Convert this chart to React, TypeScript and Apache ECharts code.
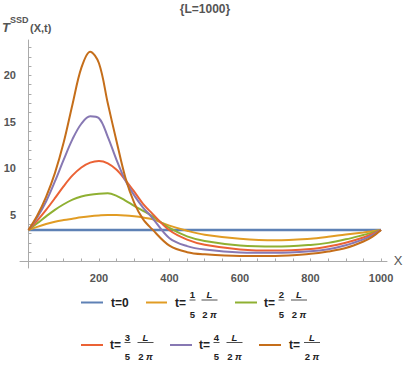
import React, { useEffect, useRef } from "react";
import * as echarts from "echarts";

const xValues = [0, 25, 50, 75, 100, 125, 150, 175, 200, 225, 250, 275, 300, 325, 350, 400, 450, 500, 600, 700, 800, 850, 900, 950, 975, 1000];

const seriesT0 = [3.39, 3.39, 3.39, 3.39, 3.39, 3.39, 3.39, 3.39, 3.39, 3.39, 3.39, 3.39, 3.39, 3.39, 3.39, 3.39, 3.39, 3.39, 3.39, 3.39, 3.39, 3.39, 3.39, 3.39, 3.39, 3.39];
const seriesT1 = [3.39, 3.72, 4.02, 4.27, 4.45, 4.6, 4.75, 4.87, 4.95, 5.0, 5.0, 4.95, 4.85, 4.72, 4.55, 3.85, 3.3, 2.88, 2.45, 2.28, 2.45, 2.65, 2.9, 3.12, 3.25, 3.39];
const seriesT2 = [3.39, 4.1, 4.85, 5.55, 6.15, 6.65, 6.98, 7.18, 7.28, 7.32, 7.05, 6.55, 5.98, 5.45, 4.9, 3.6, 2.7, 2.2, 1.72, 1.6, 1.78, 2.0, 2.38, 2.85, 3.1, 3.39];
const seriesT3 = [3.39, 4.4, 5.55, 6.8, 8.1, 9.25, 10.1, 10.62, 10.8, 10.55, 9.85, 8.75, 7.5, 6.2, 5.2, 3.35, 2.35, 1.8, 1.3, 1.17, 1.35, 1.62, 2.02, 2.58, 2.95, 3.39];
const seriesT4 = [3.39, 4.75, 6.45, 8.6, 10.95, 13.15, 14.8, 15.6, 15.4, 13.4, 10.9, 8.7, 7.1, 5.8, 4.75, 2.5, 1.65, 1.28, 0.97, 0.93, 1.1, 1.32, 1.75, 2.38, 2.8, 3.39];
const seriesT5 = [3.39, 4.95, 6.95, 9.5, 12.8, 16.9, 20.8, 22.55, 21.3, 17.0, 12.9, 9.0, 6.3, 4.55, 3.5, 1.7, 1.0, 0.77, 0.6, 0.6, 0.82, 1.07, 1.45, 2.15, 2.65, 3.39];

const seriesNames = ["t=0", "t=1/5 L/(2π)", "t=2/5 L/(2π)", "t=3/5 L/(2π)", "t=4/5 L/(2π)", "t=L/(2π)"];
const seriesValues = [seriesT0, seriesT1, seriesT2, seriesT3, seriesT4, seriesT5];
const colors = ["#5E81B5", "#E19C24", "#8FB032", "#EB6235", "#8778B3", "#C56E1A"];

const xLabelValues = [200, 400, 600, 800, 1000];
const xTickValues = [50, 100, 150, 200, 250, 300, 350, 400, 450, 500, 550, 600, 650, 700, 750, 800, 850, 900, 950, 1000];
const yLabelValues = [5, 10, 15, 20];
const yTickValues = [1, 2, 3, 4, 5, 6, 7, 8, 9, 10, 11, 12, 13, 14, 15, 16, 17, 18, 19, 20, 21, 22, 23];

const FONT = "Liberation Sans, Arial, sans-serif";
const GRAY = "#555";
const DARK = "#222";

function legendGraphics(): any[] {
  const els: any[] = [];
  const line = (x1: number, x2: number, y: number, color: string) => ({
    type: "line",
    shape: { x1, y1: y, x2, y2: y },
    style: { stroke: color, lineWidth: 2 },
  });
  const txt = (text: string, x: number, y: number, size: number, align = "left", italic = false) => ({
    type: "text",
    x,
    y,
    style: {
      text,
      fontSize: size,
      fontWeight: "bold",
      fontStyle: italic ? "italic" : "normal",
      fontFamily: FONT,
      fill: DARK,
      align,
      verticalAlign: "middle",
    },
  });
  const bar = (x1: number, x2: number, y: number) => ({
    type: "line",
    shape: { x1, y1: y, x2, y2: y },
    style: { stroke: DARK, lineWidth: 0.8 },
  });
  const frac = (cx: number, num: string, den: string, rowY: number) => {
    els.push(txt(num, cx, rowY - 8, 9.5, "center"));
    els.push(bar(cx - 3, cx + 3, rowY - 2.5));
    els.push(txt(den, cx, rowY + 11.5, 9.5, "center"));
  };
  const Lfrac = (cx: number, rowY: number) => {
    els.push(txt("L", cx, rowY - 8, 9.5, "center", true));
    els.push(bar(cx - 8, cx + 8, rowY - 2.5));
    els.push({
      type: "text",
      x: cx,
      y: rowY + 11.5,
      style: {
        rich: {
          a: { fontSize: 9.5, fontWeight: "bold", fontFamily: FONT, fill: DARK },
          b: { fontSize: 9.5, fontWeight: "bold", fontStyle: "italic", fontFamily: FONT, fill: DARK },
        },
        text: "{a|2 }{b|π}",
        align: "center",
        verticalAlign: "middle",
      },
    });
  };
  const r1 = 302.5;
  const r2 = 345;
  els.push(line(81, 103, r1, colors[0]));
  els.push(txt("t=0", 111, r1, 12));
  els.push(line(146, 167, r1, colors[1]));
  els.push(txt("t=", 175, r1, 12));
  frac(192.5, "1", "5", r1);
  Lfrac(209.5, r1);
  els.push(line(235, 257, r1, colors[2]));
  els.push(txt("t=", 264, r1, 12));
  frac(281.5, "2", "5", r1);
  Lfrac(299, r1);
  els.push(line(81, 103, r2, colors[3]));
  els.push(txt("t=", 110, r2, 12));
  frac(127.5, "3", "5", r2);
  Lfrac(145.5, r2);
  els.push(line(170, 192, r2, colors[4]));
  els.push(txt("t=", 199, r2, 12));
  frac(216.5, "4", "5", r2);
  Lfrac(234.5, r2);
  els.push(line(259, 281, r2, colors[5]));
  els.push(txt("t=", 289, r2, 12));
  Lfrac(312, r2);
  return els;
}

export default function App() {
  const ref = useRef<HTMLDivElement>(null);
  useEffect(() => {
    if (!ref.current) return;
    const chart = echarts.init(ref.current, null, { renderer: "svg" });
    const series = seriesValues.map((vals, i) => ({
      name: seriesNames[i],
      type: "line",
      data: xValues.map((x, j) => [x, vals[j]]),
      smooth: 0.35,
      showSymbol: false,
      lineStyle: { color: colors[i], width: i === 0 ? 2.5 : 2 },
      itemStyle: { color: colors[i] },
      z: 2 + i,
    }));
    const labelStyle = {
      color: GRAY,
      fontSize: 11,
      fontWeight: "bold",
      fontFamily: FONT,
      margin: 4,
      formatter: (v: number) => String(v),
    };
    chart.setOption({
      animation: false,
      backgroundColor: "#fff",
      grid: { left: 20, right: 19, top: 40, bottom: 99, containLabel: false },
      xAxis: {
        type: "value",
        min: -24,
        max: 1017,
        splitLine: { show: false },
        axisLine: { show: true, onZero: true, lineStyle: { color: "#aaa", width: 1 } },
        axisTick: { show: true, inside: true, length: 3, customValues: xTickValues, lineStyle: { color: "#aaa" } },
        axisLabel: { ...labelStyle, customValues: xLabelValues },
      },
      yAxis: {
        type: "value",
        min: -0.7,
        max: 23.8,
        splitLine: { show: false },
        axisLine: { show: true, onZero: true, lineStyle: { color: "#aaa", width: 1 } },
        axisTick: { show: true, inside: true, length: 3, customValues: yTickValues, lineStyle: { color: "#aaa" } },
        axisLabel: { ...labelStyle, customValues: yLabelValues },
      },
      series,
      graphic: [
        {
          type: "text",
          x: 205,
          y: 9,
          style: { text: "{L=1000}", fontSize: 12, fontWeight: "bold", fontFamily: FONT, fill: GRAY, align: "center", verticalAlign: "middle" },
        },
        {
          type: "text",
          x: 2,
          y: 27,
          style: { text: "T", fontSize: 13, fontStyle: "italic", fontWeight: "bold", fontFamily: FONT, fill: GRAY, align: "left", verticalAlign: "middle" },
        },
        {
          type: "text",
          x: 10,
          y: 20,
          style: { text: "SSD", fontSize: 9, fontWeight: "bold", fontFamily: FONT, fill: GRAY, align: "left", verticalAlign: "middle" },
        },
        {
          type: "text",
          x: 30,
          y: 28,
          style: { text: "(X,t)", fontSize: 11, fontWeight: "bold", fontFamily: FONT, fill: GRAY, align: "left", verticalAlign: "middle" },
        },
        {
          type: "text",
          x: 398,
          y: 260,
          style: { text: "X", fontSize: 13, fontFamily: FONT, fill: GRAY, align: "center", verticalAlign: "middle" },
        },
        ...legendGraphics(),
      ],
    });
    return () => chart.dispose();
  }, []);
  return <div ref={ref} style={{ position: "fixed", left: 0, top: 0, width: 406, height: 367 }} />;
}
